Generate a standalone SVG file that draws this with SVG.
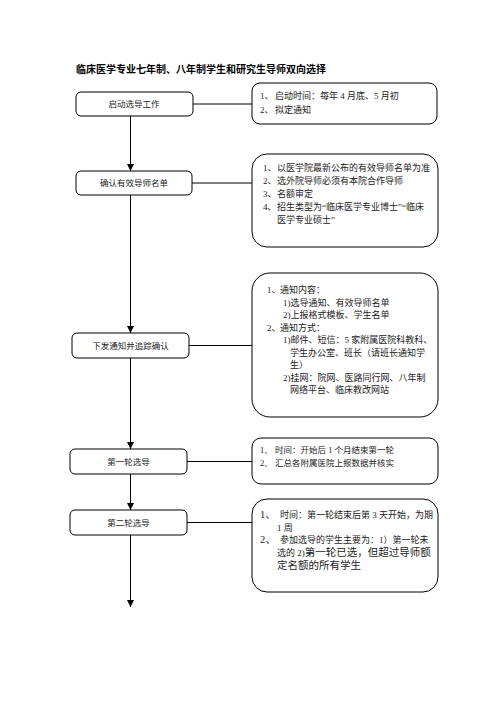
<svg xmlns="http://www.w3.org/2000/svg" width="496" height="702" viewBox="0 0 496 702">
<defs>
<marker id="ah" markerUnits="userSpaceOnUse" markerWidth="8" markerHeight="8" refX="7" refY="3.5" orient="auto">
<path d="M0,0 L7,3.5 L0,7 Z" fill="#000"/>
</marker>
<style>
.box{fill:#fff;stroke:#000;stroke-width:1}
.t{font-family:"Liberation Serif","Noto Sans CJK SC",serif;font-size:9px;fill:#222}
.lbl{font-family:"Liberation Serif","Noto Sans CJK SC",serif;font-size:8.5px;fill:#222;text-anchor:middle}
.ttl{font-family:"Noto Sans CJK SC",sans-serif;font-size:10px;font-weight:bold;fill:#000}
.ln{stroke:#000;stroke-width:1;fill:none}
</style>
</defs>
<rect width="496" height="702" fill="#fff"/>
<text class="ttl" x="76" y="72.5">临床医学专业七年制、八年制学生和研究生导师双向选择</text>

<g id="connectors">
<path class="ln" d="M193,104 H252"/>
<path class="ln" d="M192,183 H252"/>
<path class="ln" d="M189,345.5 H252"/>
<path class="ln" d="M187,461.5 H252"/>
<path class="ln" d="M187,522.5 H252"/>
<path class="ln" d="M130.5,116 V171" marker-end="url(#ah)"/>
<path class="ln" d="M130.5,195 V333" marker-end="url(#ah)"/>
<path class="ln" d="M130.5,358 V449" marker-end="url(#ah)"/>
<path class="ln" d="M130.5,474 V510" marker-end="url(#ah)"/>
<path class="ln" d="M130.5,535 V607" marker-end="url(#ah)"/>
</g>

<g id="n1">
<rect class="box" x="76" y="92" width="117" height="24" rx="5"/>
<text class="lbl" x="134" y="107">启动选导工作</text>
</g>
<g id="n1note">
<rect class="box" x="252" y="83" width="185" height="41" rx="8"/>
<text class="t" x="260" y="99">1、<tspan x="275">启动时间：每年 4 月底、5 月初</tspan></text>
<text class="t" x="260" y="113">2、<tspan x="275">拟定通知</tspan></text>
</g>

<g id="n2">
<rect class="box" x="76" y="171" width="116" height="24" rx="5"/>
<text class="lbl" x="134" y="186">确认有效导师名单</text>
</g>
<g id="n2note">
<rect class="box" x="252" y="154" width="186" height="93" rx="15"/>
<text class="t" x="263" y="171">1、<tspan x="277">以医学院最新公布的有效导师名单为准</tspan></text>
<text class="t" x="263" y="184">2、<tspan x="277">选外院导师必须有本院合作导师</tspan></text>
<text class="t" x="263" y="197">3、<tspan x="277">名额审定</tspan></text>
<text class="t" x="263" y="210">4、<tspan x="277">招生类型为“临床医学专业博士”“临床</tspan></text>
<text class="t" x="277" y="223">医学专业硕士”</text>
</g>

<g id="n3">
<rect class="box" x="72" y="333" width="117" height="25" rx="5"/>
<text class="lbl" x="130.5" y="348.5">下发通知并追踪确认</text>
</g>
<g id="n3note">
<rect class="box" x="252" y="273" width="186" height="144" rx="18"/>
<text class="t" x="267" y="293">1、<tspan x="280">通知内容：</tspan></text>
<text class="t" x="283" y="305.5">1)选导通知、有效导师名单</text>
<text class="t" x="283" y="318">2)上报格式模板、学生名单</text>
<text class="t" x="267" y="330.5">2、<tspan x="280">通知方式：</tspan></text>
<text class="t" x="283" y="343">1)邮件、短信：5 家附属医院科教科、</text>
<text class="t" x="290" y="355.5">学生办公室、班长（请班长通知学</text>
<text class="t" x="290" y="368">生）</text>
<text class="t" x="283" y="380.5">2)挂网：院网、医路同行网、八年制</text>
<text class="t" x="290" y="393">网络平台、临床教改网站</text>
</g>

<g id="n4">
<rect class="box" x="70" y="449" width="117" height="25" rx="5"/>
<text class="lbl" x="128.5" y="464.5">第一轮选导</text>
</g>
<g id="n4note">
<rect class="box" x="252" y="438" width="186" height="46" rx="9"/>
<text class="t" x="260" y="453" style="font-size:8.5px">1、<tspan x="275">时间：开始后 1 个月结束第一轮</tspan></text>
<text class="t" x="260" y="466" style="font-size:8.5px">2、<tspan x="275">汇总各附属医院上报数据并核实</tspan></text>
</g>

<g id="n5">
<rect class="box" x="70" y="510" width="117" height="25" rx="5"/>
<text class="lbl" x="128.5" y="525.5">第二轮选导</text>
</g>
<g id="n5note">
<rect class="box" x="252" y="499" width="186" height="93" rx="15"/>
<text class="t" x="260" y="517.5"><tspan style="font-size:10.5px">1、</tspan><tspan x="280">时间：第一轮结束后第 3 天开始，为期</tspan></text>
<text class="t" x="277" y="530.5">1 周</text>
<text class="t" x="260" y="542.5"><tspan style="font-size:10.5px">2、</tspan><tspan x="280">参加选导的学生主要为：1）第一轮未</tspan></text>
<text class="t" x="277" y="556">选的 2)<tspan style="font-size:10.5px">第一轮已选，但超过导师额</tspan></text>
<text class="t" x="277" y="569" style="font-size:10.5px">定名额的所有学生</text>
</g>
</svg>
